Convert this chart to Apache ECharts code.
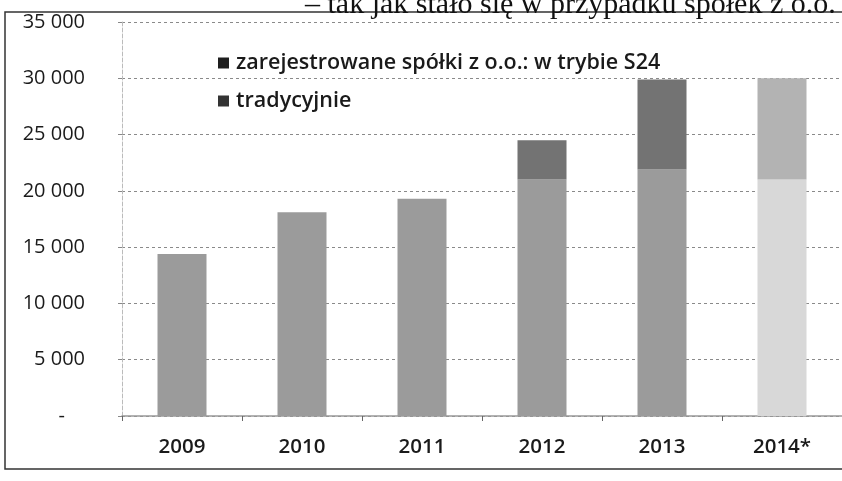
<!DOCTYPE html>
<html><head><meta charset="utf-8">
<script src="https://cdn.jsdelivr.net/npm/echarts@6/dist/echarts.min.js"></script>
<style>html,body{margin:0;padding:0;background:#fff}#c{width:842px;height:481px}</style>
</head><body><div id="c"></div>
<script>
const categories = ['2009', '2010', '2011', '2012', '2013', '2014*'];
const tradycyjnie = [14400, 18100, 19300, 21000, 21900, 21000];
const s24 = [0, 0, 0, 3500, 8000, 9000];
const yTicks = [0, 5000, 10000, 15000, 20000, 25000, 30000, 35000];
const legendNames = ['zarejestrowane spółki z o.o.: w trybie S24', 'tradycyjnie'];
const topText = '– tak jak stało się w przypadku spółek z o.o.';

const chart = echarts.init(document.getElementById('c'), null, {renderer: 'canvas'});
const fmt = v => String(v).replace(/\B(?=(\d{3})+(?!\d))/g, ' ');
const projIdx = categories.length - 1;
const mk = (arr, col, projCol) => arr.map((v, i) => ({value: v, itemStyle: {color: i === projIdx ? projCol : col}}));

chart.setOption({
  animation: false,
  textStyle: {fontFamily: 'Open Sans'},
  grid: {left: 122, right: -6, top: 22, bottom: 65},
  legend: {
    orient: 'vertical', left: 213, top: 47, itemGap: 16,
    itemWidth: 11, itemHeight: 11, icon: 'rect',
    data: [
      {name: legendNames[0], itemStyle: {color: '#1e1e1e'}},
      {name: legendNames[1], itemStyle: {color: '#333'}}
    ],
    textStyle: {fontSize: 21.5, fontWeight: 600, color: '#1a1a1a', fontFamily: 'Open Sans', padding: [0, 0, 0, 2]}
  },
  xAxis: {
    type: 'category', data: categories,
    axisLine: {lineStyle: {color: '#999', width: 1.5}},
    axisTick: {show: true, length: 5, lineStyle: {color: '#666'}},
    axisLabel: {fontSize: 20.5, fontWeight: 600, color: '#1a1a1a', margin: 21}
  },
  yAxis: {
    type: 'value', min: 0, max: 35000, interval: 5000,
    axisLine: {show: true, lineStyle: {color: '#bbb', type: 'dashed'}},
    axisTick: {show: true, length: 4, lineStyle: {color: '#888'}},
    splitLine: {lineStyle: {color: '#8a8a8a', type: [3, 3], width: 1}},
    axisLabel: {
      fontSize: 20, color: '#1a1a1a', margin: 37,
      formatter: v => v === 0 ? '{d|-}' : fmt(v),
      rich: {d: {fontSize: 20, color: '#1a1a1a', padding: [0, 20, 0, 0]}}
    }
  },
  series: [
    {name: legendNames[1], type: 'bar', stack: 't', barWidth: 49, data: mk(tradycyjnie, '#9b9b9b', '#d8d8d8')},
    {name: legendNames[0], type: 'bar', stack: 't', barWidth: 49, data: mk(s24, '#737373', '#b3b3b3')}
  ],
  graphic: [
    {type: 'rect', shape: {x: 5, y: 12, width: 860, height: 457}, style: {fill: 'none', stroke: '#333', lineWidth: 1.5}, silent: true},
    {type: 'text', x: 305, y: -10, style: {text: topText, font: '30px "Liberation Serif"', fill: '#111'}, silent: true}
  ]
});
</script></body></html>
